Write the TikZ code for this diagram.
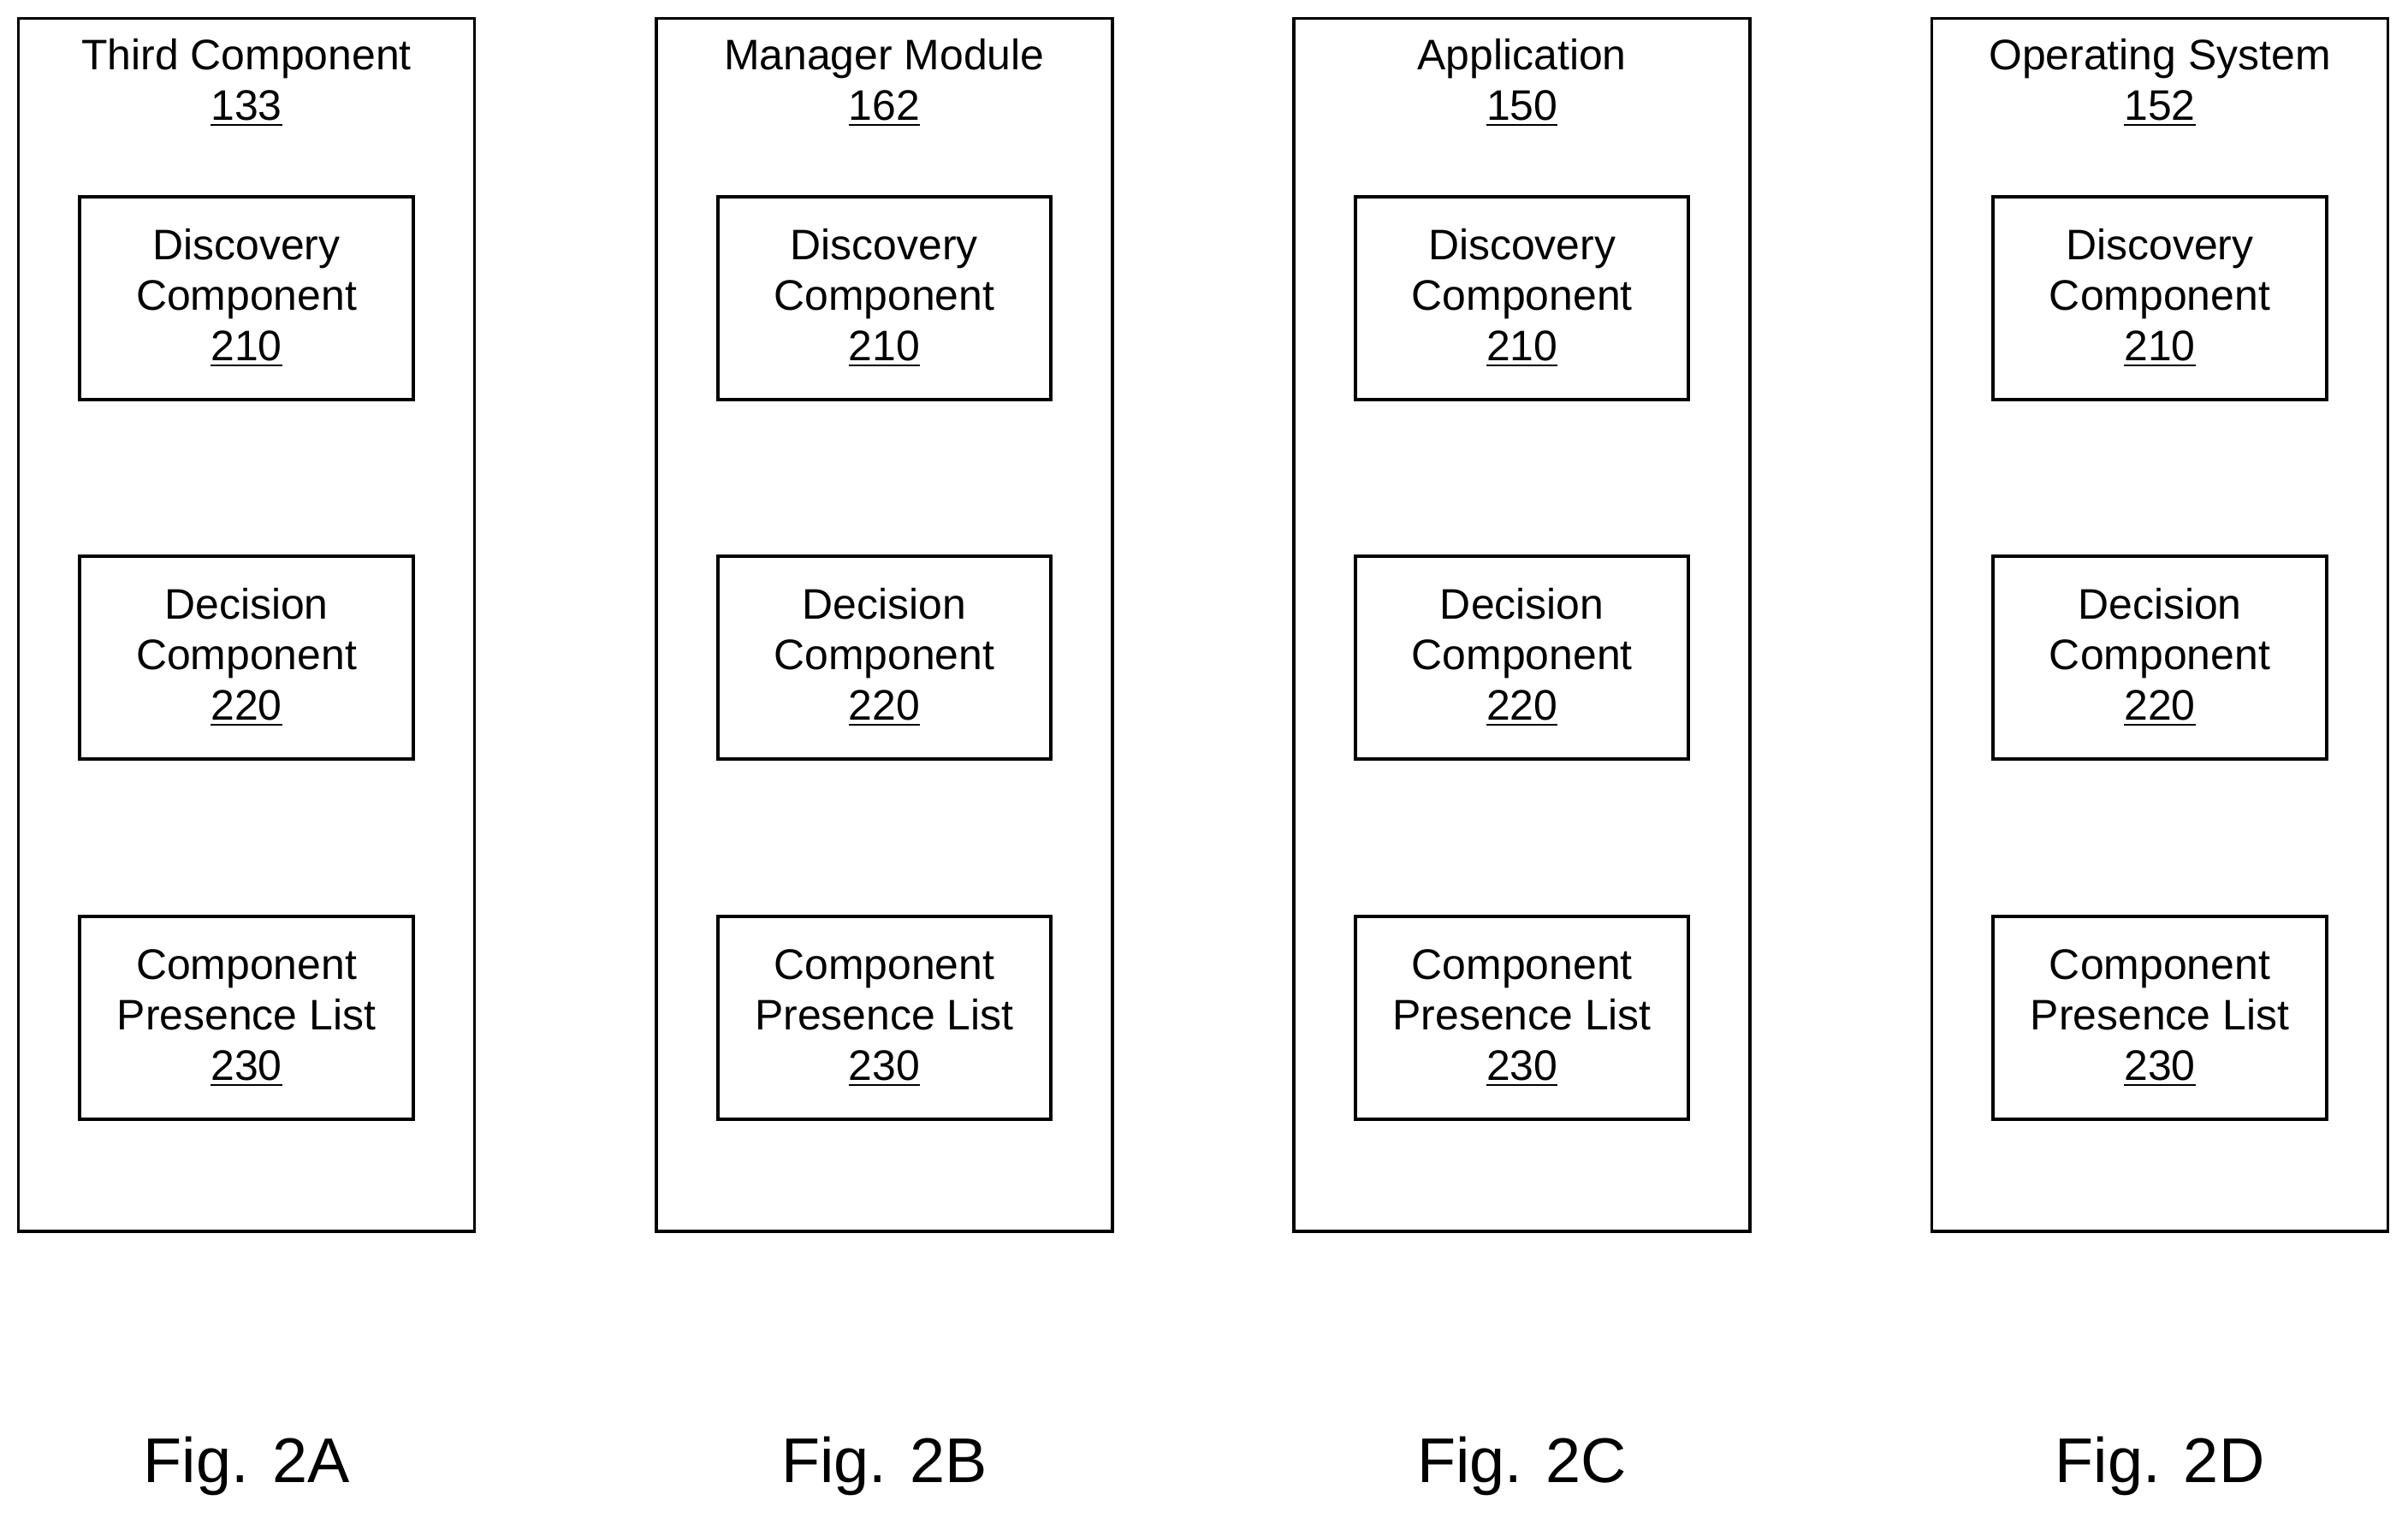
\documentclass[tikz,border=0pt]{standalone}
\usepackage{fontspec}
\setmainfont{Liberation Sans}
\usepackage{tikz}

\begin{document}
\begin{tikzpicture}[x=0.01795cm,y=-0.01795cm,
    txt/.style={font=\fontsize{14.2}{16.8}\selectfont,align=center},
    part/.style={draw,line width=1.1pt,minimum width=217*0.01795cm,minimum height=132*0.01795cm,txt}]
      \useasboundingbox (0,0) rectangle (1568,988);
      \foreach \i/\name/\num/\fig in {0/Third Component/133/A,1/Manager Module/162/B,2/Application/150/C,3/Operating System/152/D} {
        \begin{scope}[xshift=\i*415.3*0.01795cm]
          \draw [line width=1.1pt] (12,12) rectangle (309,802); % Outer box.
          \node [txt] (title\fig) at (160.5,54) {\name\\\underline{\num}};
          \node [part] (disc\fig) at (160.5,194) {Discovery\\Component\\\underline{210}};
          \node [part] (dec\fig) at (160.5,428) {Decision\\Component\\\underline{220}};
          \node [part] (list\fig) at (160.5,663) {Component\\Presence List\\\underline{230}};
          \node [font=\fontsize{21}{25}\selectfont] (fig\fig) at (160.5,955) {Fig. 2\fig};
        \end{scope}
      }
\end{tikzpicture}
\end{document}
